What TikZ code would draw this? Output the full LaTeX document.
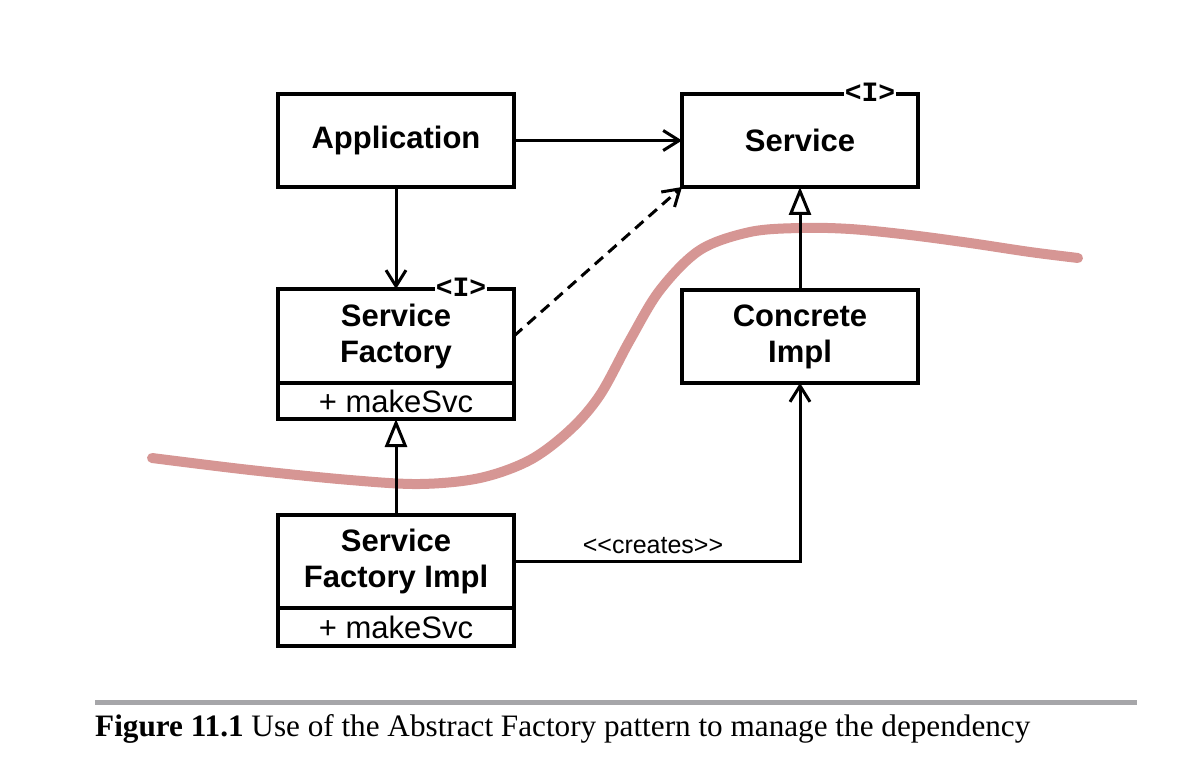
\documentclass[tikz,border=0pt]{standalone}
\usepackage{fontspec}
\setmainfont{Liberation Serif}
\setsansfont{Liberation Sans}[Ligatures=NoCommon]
\setmonofont{Liberation Mono}
\usetikzlibrary{arrows.meta,positioning}
\definecolor{curvered}{RGB}{214,150,148}
\definecolor{rulegray}{RGB}{166,166,169}
\tikzset{
  box/.style={draw, line width=3.2pt, outer sep=0pt, minimum width=236pt, inner sep=0pt, align=center,
    font=\sffamily\bfseries\fontsize{31}{36}\selectfont},
  opbox/.style={draw, line width=3.2pt, outer sep=0pt, minimum width=236pt, inner sep=0pt, align=center,
    font=\sffamily\fontsize{31}{36}\selectfont},
  conn/.style={line width=3pt},
  vtip/.style={-{Straight Barb[length=16pt,width=20pt,line width=3pt]}},
  inh/.style={-{Triangle[open,length=28pt,width=22pt,line width=3pt,fill=white]}},
  stereo/.style={fill=white, inner sep=1pt, font=\ttfamily\bfseries\fontsize{28}{30}\selectfont},
}
\begin{document}
\begin{tikzpicture}[x=1pt,y=-1pt]
\useasboundingbox (0,0) rectangle (1192,770);
% red boundary curve
\draw[curvered, line width=10pt, line cap=round] plot[smooth, tension=0.55] coordinates {
 (152,458) (250,470) (350,480) (420,484) (480,478) (530,460) (570,430) (600,395)
 (630,340) (660,290) (700,250) (750,232) (800,228) (850,229) (910,235) (970,243) (1030,252) (1078,258)};
% boxes
\node[box, minimum height=93pt] (app) at (396,140.5) {Application};
\node[box, minimum height=93pt] (svc) at (800,140.5) {Service};
\node[box, minimum height=94pt] (sf) at (396,336) {Service\\Factory};
\node[opbox, minimum height=36pt, anchor=north] (sfop) at (sf.south) {+ makeSvc};
\node[box, minimum height=93pt] (ci) at (800,336.5) {Concrete\\Impl};
\node[box, minimum height=93pt] (sfi) at (396,561.5) {Service\\Factory Impl};
\node[opbox, minimum height=38pt, anchor=north] (sfiop) at (sfi.south) {+ makeSvc};
% stereotypes
\node[stereo] (svcI) at (870,92) {<I>};
\node[stereo] (sfI) at (461,287) {<I>};
% connectors
\draw[conn, vtip] (app.east) -- (svc.west);
\draw[conn, vtip] (app.south) -- (sf.north);
\draw[conn, vtip, dashed, dash pattern=on 11pt off 7pt] (sf.east) -- (svc.south west);
\draw[conn, inh] (ci.north) -- (svc.south);
\draw[conn, inh] (sfi.north) -- (sfop.south);
\coordinate (corner) at (ci.south |- sfi.east);
\draw[conn, vtip] (sfi.east) -- (corner) -- (ci.south);
\node[font=\sffamily\fontsize{25}{28}\selectfont] (creates) at (653,546) {{<}{<}creates{>}{>}};
% caption
\draw[rulegray, line width=5pt] (95,702) -- (1137,702);
\node[anchor=base west, inner sep=0pt, font=\fontsize{31.2}{36}\selectfont] (cap) at (95,736)
  {\textbf{Figure 11.1} Use of the Abstract Factory pattern to manage the dependency};
\end{tikzpicture}
\end{document}
